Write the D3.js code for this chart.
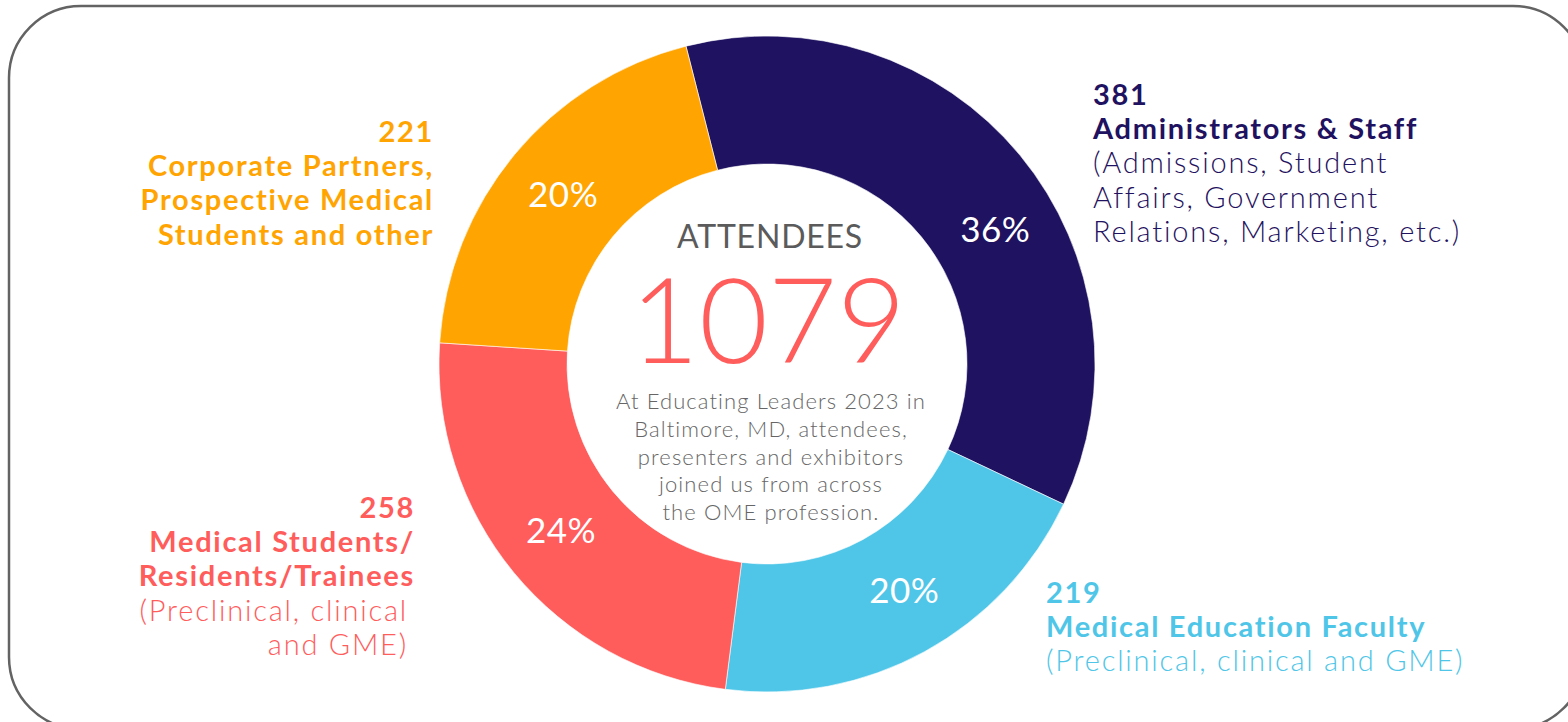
<!DOCTYPE html>
<html lang="en">
<head>
    <meta charset="UTF-8">
    <title>Attendees donut</title>
    <script src="https://d3js.org/d3.v7.min.js"></script>
    <style>
        body {
            margin: 0;
            background: #ffffff;
            font-family: 'Lato', sans-serif;
        }
        svg { display: block; }
        .pct { fill: #ffffff; font-size: 35px; font-weight: 400; letter-spacing: 0.5px; }
        .count, .head { font-weight: 700; font-size: 29px; letter-spacing: 1.7px; }
        .sub { font-weight: 300; font-size: 29px; letter-spacing: 1.8px; }
        .note { font-weight: 300; font-size: 22px; letter-spacing: 1.1px; }
    </style>
</head>
<body>
    <div id="chart"></div>
    <script>
        // data
        const categories = ["Administrators & Staff", "Medical Education Faculty",
            "Medical Students/Residents/Trainees", "Corporate Partners, Prospective Medical Students and other"];
        const counts = [381, 219, 258, 221];
        const percents = [36, 20, 24, 20];
        const colors = ["#1f1260", "#4fc6e8", "#ff5c5c", "#ffa400"];
        const headLines = [
            ["Administrators & Staff"],
            ["Medical Education Faculty"],
            ["Medical Students/", "Residents/Trainees"],
            ["Corporate Partners,", "Prospective Medical", "Students and other"]
        ];
        const subLines = [
            ["(Admissions, Student", "Affairs, Government", "Relations, Marketing, etc.)"],
            ["(Preclinical, clinical and GME)"],
            ["(Preclinical, clinical", "and GME)"],
            []
        ];
        const total = 1079;
        const centerTitle = "ATTENDEES";
        const centerNote = ["At Educating Leaders 2023 in", "Baltimore, MD, attendees,",
            "presenters and exhibitors", "joined us from across", "the OME profession."];

        const width = 1568, height = 722;
        const cx = 767, cy = 364, outerR = 328, innerR = 200;
        const rad = Math.PI / 180;

        const svg = d3.select("#chart").append("svg")
            .attr("width", width)
            .attr("height", height);

        // rounded frame (runs off the right and bottom edges)
        svg.append("rect")
            .attr("x", 9).attr("y", 6)
            .attr("width", 1576).attr("height", 723)
            .attr("rx", 72).attr("ry", 72)
            .attr("fill", "none")
            .attr("stroke", "#636363")
            .attr("stroke-width", 2.5);

        const pie = d3.pie()
            .sort(null)
            .startAngle(-14.3 * rad)
            .endAngle((360 - 14.3) * rad);

        const arcs = pie(percents);
        const arc = d3.arc().innerRadius(innerR).outerRadius(outerR);

        const g = svg.append("g").attr("transform", `translate(${cx},${cy})`);

        g.selectAll("path.slice")
            .data(arcs)
            .enter()
            .append("path")
            .attr("class", "slice")
            .attr("d", arc)
            .attr("fill", (d, i) => colors[i])
            .attr("stroke", "#ffffff")
            .attr("stroke-width", 0.6);

        // percent labels; some sit a little off the slice middle
        const nudge = [9, -2.5, 0.5, 0];
        const labelR = 265;
        g.selectAll("text.pct")
            .data(arcs)
            .enter()
            .append("text")
            .attr("class", "pct")
            .attr("text-anchor", "middle")
            .attr("dy", "0.36em")
            .attr("x", (d, i) => labelR * Math.sin((d.startAngle + d.endAngle) / 2 + nudge[i] * rad))
            .attr("y", (d, i) => -labelR * Math.cos((d.startAngle + d.endAngle) / 2 + nudge[i] * rad))
            .text((d, i) => percents[i] + "%");

        // centre text
        g.append("text")
            .attr("x", 3).attr("y", -116)
            .attr("text-anchor", "middle")
            .attr("fill", "#5b5b5b")
            .attr("font-size", 32)
            .attr("font-weight", 400)
            .attr("letter-spacing", "0.8px")
            .text(centerTitle);

        g.append("text")
            .attr("x", 1).attr("y", -1)
            .attr("text-anchor", "middle")
            .attr("fill", "#ff5c5c")
            .attr("font-size", 119)
            .attr("font-weight", 300)
            .text(total);

        g.append("text")
            .attr("class", "note")
            .attr("text-anchor", "middle")
            .attr("fill", "#666666")
            .selectAll("tspan")
            .data(centerNote)
            .enter()
            .append("tspan")
            .attr("x", 4)
            .attr("y", (d, i) => 45 + i * 27.8)
            .text(d => d);

        // outside category labels
        const blocks = [
            { x: 1093, y: 105, anchor: "start" },
            { x: 1046, y: 603, anchor: "start" },
            { x: 415, y: 518, anchor: "end" },
            { x: 434, y: 142, anchor: "end" }
        ];
        const lineH = 34.2;

        categories.forEach((c, i) => {
            const b = blocks[i];
            const t = svg.append("text")
                .attr("text-anchor", b.anchor)
                .attr("fill", colors[i]);
            let n = 0;
            t.append("tspan").attr("class", "count")
                .attr("x", b.x).attr("y", b.y).text(counts[i]);
            headLines[i].forEach(line => {
                n++;
                t.append("tspan").attr("class", "head")
                    .attr("x", b.x).attr("y", b.y + n * lineH).text(line);
            });
            subLines[i].forEach(line => {
                n++;
                t.append("tspan").attr("class", "sub")
                    .attr("x", b.anchor === "end" ? b.x - 7 : b.x)
                    .attr("y", b.y + n * lineH).text(line);
            });
        });
    </script>
</body>
</html>
